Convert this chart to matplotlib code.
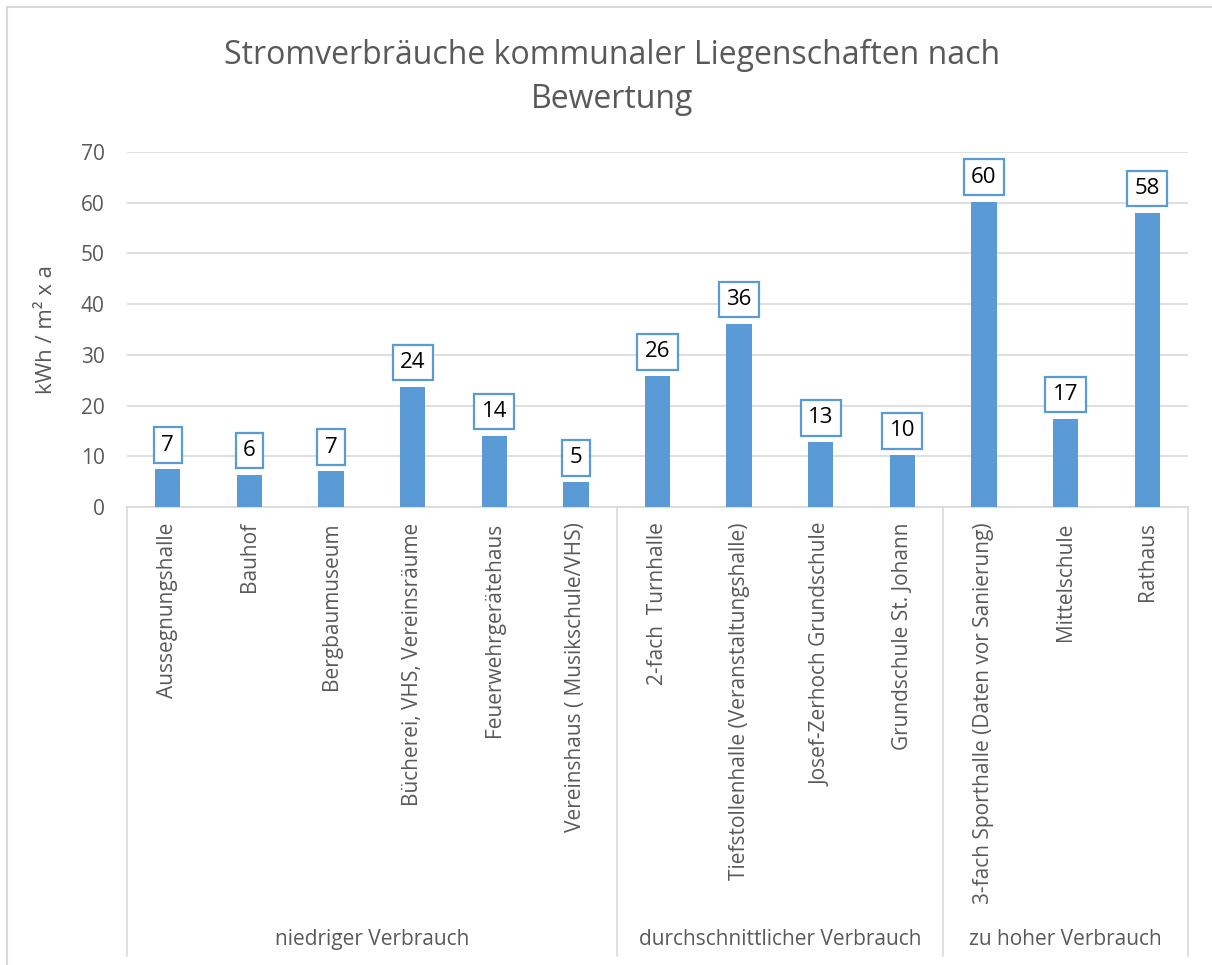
import matplotlib
matplotlib.use("Agg")
import matplotlib.pyplot as plt
from matplotlib.lines import Line2D
import numpy as np

plt.rcParams["font.family"] = ["Open Sans", "DejaVu Sans"]

# ---------------------------------------------------------------------------
# Data
# ---------------------------------------------------------------------------
buildings = [
    "Aussegnungshalle", "Bauhof", "Bergbaumuseum",
    "Bücherei, VHS, Vereinsräume", "Feuerwehrgerätehaus",
    "Vereinshaus ( Musikschule/VHS)",
    "2-fach  Turnhalle", "Tiefstollenhalle (Veranstaltungshalle)",
    "Josef-Zerhoch Grundschule", "Grundschule St. Johann",
    "3-fach Sporthalle (Daten vor Sanierung)", "Mittelschule", "Rathaus",
]
values = [7.4, 6.3, 7.0, 23.7, 14.0, 4.9, 25.8, 36.1, 12.8, 10.2, 60.2, 17.4, 58.0]
groups = ["niedriger Verbrauch", "durchschnittlicher Verbrauch", "zu hoher Verbrauch"]
group_sizes = [6, 4, 3]

BAR = "#5B9BD5"
GRID = "#D9D9D9"
TXT = "#595959"

fig = plt.figure(figsize=(12.12, 9.65), dpi=100)
ax = fig.add_axes([127 / 1212, 1 - 507 / 965, (1188 - 127) / 1212, (507 - 152) / 965])

x = np.arange(len(values))
ax.bar(x, values, width=0.31, color=BAR, zorder=3)

for xi, v in zip(x, values):
    ax.annotate(f"{v:.0f}", xy=(xi, v), xytext=(0, 10), textcoords="offset points",
                ha="center", va="bottom", fontsize=16, color="black", zorder=5,
                bbox=dict(boxstyle="square,pad=0.33", fc="white", ec=BAR, lw=1.6))

ax.set_xlim(-0.5, len(values) - 0.5)
ax.set_ylim(0, 70)
ax.set_yticks(range(0, 71, 10))
ax.grid(axis="y", color=GRID, linewidth=1.2, zorder=0)
ax.set_axisbelow(True)
for s in ["top", "right", "left"]:
    ax.spines[s].set_visible(False)
ax.spines["bottom"].set_color(GRID)
ax.spines["bottom"].set_linewidth(1.2)

ax.set_xticks(x)
ax.set_xticklabels(buildings, rotation=90, va="top", ha="center")
ax.tick_params(axis="x", length=0, pad=11, labelsize=15, labelcolor=TXT)
ax.tick_params(axis="y", length=0, pad=16, labelsize=15, labelcolor=TXT)

ax.set_ylabel("kWh / m² x a", fontsize=16, color=TXT)
ax.yaxis.set_label_coords(-0.066, 0.5)

# multi-level category axis: separators and group names
bot = -(956 - 507) / 355
edges = np.concatenate([[0], np.cumsum(group_sizes)]) - 0.5
trans = ax.get_xaxis_transform()
for e in edges:
    ax.add_line(Line2D([e, e], [0, bot], transform=trans, color=GRID,
                       linewidth=1.2, clip_on=False))
for g, a, b in zip(groups, edges[:-1], edges[1:]):
    ax.text((a + b) / 2, -(940 - 507) / 355, g, transform=trans,
            ha="center", va="center", fontsize=15, color=TXT)

fig.text(0.505, 1 - 55 / 965, "Stromverbräuche kommunaler Liegenschaften nach",
         ha="center", va="center", fontsize=23, color=TXT)
fig.text(0.505, 1 - 100 / 965, "Bewertung",
         ha="center", va="center", fontsize=23, color=TXT)

# chart area border (extends past right/bottom edge)
fig.add_artist(Line2D([7 / 1212, 7 / 1212], [0, 1 - 7 / 965], transform=fig.transFigure,
                      color=GRID, linewidth=1.5))
fig.add_artist(Line2D([7 / 1212, 1], [1 - 7 / 965, 1 - 7 / 965], transform=fig.transFigure,
                      color=GRID, linewidth=1.5))

fig.savefig("out.png", dpi=100)
